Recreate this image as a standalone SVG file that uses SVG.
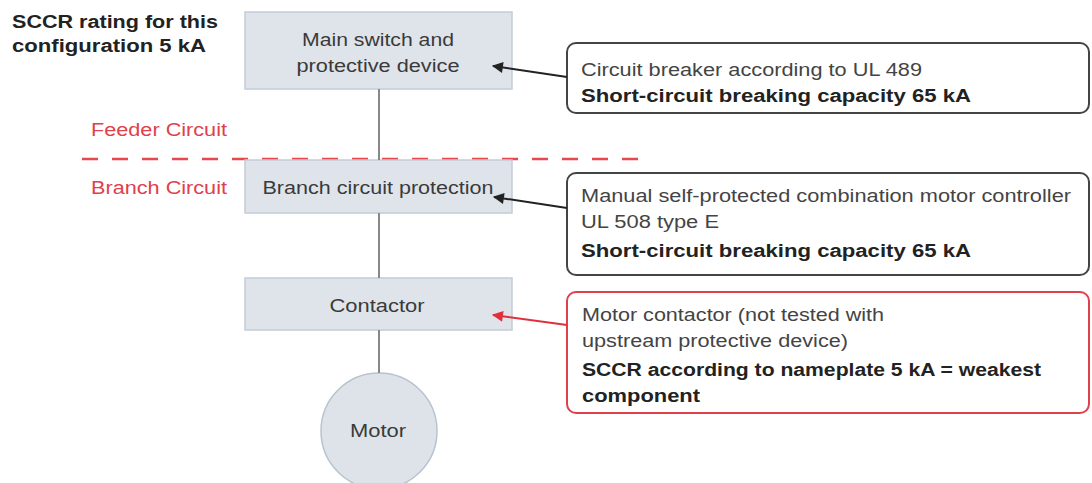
<svg xmlns="http://www.w3.org/2000/svg" width="1092" height="483" viewBox="0 0 1092 483">
<defs>
<style>
text{font-family:"Liberation Sans",Arial,sans-serif;}
.node{fill:#dfe4ea;stroke:#c3ccd6;stroke-width:1.5;}
.nt{font-size:17.5px;fill:#3a3a3a;text-anchor:middle;}
.lbl{font-size:17.5px;fill:#444;}
.b{font-weight:bold;fill:#222;}
.red{font-size:17.5px;fill:#e0404c;}
.call{fill:#fff;stroke:#444;stroke-width:2;}
.callr{fill:#fff;stroke:#e0404c;stroke-width:2;}
.wire{stroke:#888;stroke-width:2;fill:none;}
</style>
<marker id="ah" viewBox="0 0 10 10" refX="9" refY="5" markerWidth="12" markerHeight="11" markerUnits="userSpaceOnUse" orient="auto"><path d="M0,0 L10,5 L0,10 z" fill="#222"/></marker>
<marker id="ahr" viewBox="0 0 10 10" refX="9" refY="5" markerWidth="12" markerHeight="11" markerUnits="userSpaceOnUse" orient="auto"><path d="M0,0 L10,5 L0,10 z" fill="#e0303c"/></marker>
</defs>
<rect width="1092" height="483" fill="#fff"/>
<g id="title"><text x="12" y="28" class="lbl b" textLength="206" lengthAdjust="spacingAndGlyphs">SCCR rating for this</text><text x="12" y="52" class="lbl b" textLength="194" lengthAdjust="spacingAndGlyphs">configuration 5 kA</text></g>
<g id="labels"><text x="91" y="136" class="red" textLength="136" lengthAdjust="spacingAndGlyphs">Feeder Circuit</text><text x="91" y="194" class="red" textLength="136" lengthAdjust="spacingAndGlyphs">Branch Circuit</text>
<line x1="82" y1="159" x2="645" y2="159" stroke="#e8474f" stroke-width="2.5" stroke-dasharray="16,14"/></g>
<g id="main"><rect x="245" y="12" width="267" height="77" class="node"/><text x="378" y="46" class="nt" textLength="152" lengthAdjust="spacingAndGlyphs">Main switch and</text><text x="378" y="72" class="nt" textLength="163" lengthAdjust="spacingAndGlyphs">protective device</text></g>
<g id="branch"><rect x="245" y="160" width="267" height="53" class="node"/><text x="378" y="194" class="nt" textLength="231" lengthAdjust="spacingAndGlyphs">Branch circuit protection</text></g>
<g id="contactor"><rect x="245" y="278" width="267" height="52" class="node"/><text x="377" y="312" class="nt" textLength="95" lengthAdjust="spacingAndGlyphs">Contactor</text></g>
<g id="motor"><circle cx="379" cy="431" r="58" fill="#dde3e9" stroke="#b8c3cf" stroke-width="1.5"/><text x="378" y="437" class="nt" textLength="56" lengthAdjust="spacingAndGlyphs">Motor</text></g>
<g id="note1"><rect x="567" y="43" width="522" height="70" rx="9" class="call"/><text x="581" y="76" class="lbl" textLength="341" lengthAdjust="spacingAndGlyphs">Circuit breaker according to UL 489</text><text x="581" y="102" class="lbl b" textLength="390" lengthAdjust="spacingAndGlyphs">Short-circuit breaking capacity 65 kA</text></g>
<g id="note2"><rect x="567" y="173" width="522" height="102" rx="9" class="call"/><text x="581" y="202" class="lbl" textLength="490" lengthAdjust="spacingAndGlyphs">Manual self-protected combination motor controller</text><text x="581" y="228" class="lbl" textLength="138" lengthAdjust="spacingAndGlyphs">UL 508 type E</text><text x="581" y="257" class="lbl b" textLength="390" lengthAdjust="spacingAndGlyphs">Short-circuit breaking capacity 65 kA</text></g>
<g id="note3"><rect x="567" y="292" width="522" height="121" rx="9" class="callr"/><text x="582" y="321" class="lbl" textLength="302" lengthAdjust="spacingAndGlyphs">Motor contactor (not tested with</text><text x="582" y="347" class="lbl" textLength="266" lengthAdjust="spacingAndGlyphs">upstream protective device)</text><text x="582" y="376" class="lbl b" textLength="459" lengthAdjust="spacingAndGlyphs">SCCR according to nameplate 5 kA = weakest</text><text x="582" y="402" class="lbl b" textLength="118" lengthAdjust="spacingAndGlyphs">component</text></g>
<g id="connectors">
<line x1="379" y1="89" x2="379" y2="160" class="wire"/>
<line x1="379" y1="213" x2="379" y2="278" class="wire"/>
<line x1="379" y1="330" x2="379" y2="373" class="wire"/>
<line x1="567" y1="77" x2="493" y2="66" stroke="#222" stroke-width="2" marker-end="url(#ah)"/>
<line x1="567" y1="208" x2="494" y2="197" stroke="#222" stroke-width="2" marker-end="url(#ah)"/>
<line x1="567" y1="325" x2="493" y2="315" stroke="#e0303c" stroke-width="2" marker-end="url(#ahr)"/>
</g>
</svg>
